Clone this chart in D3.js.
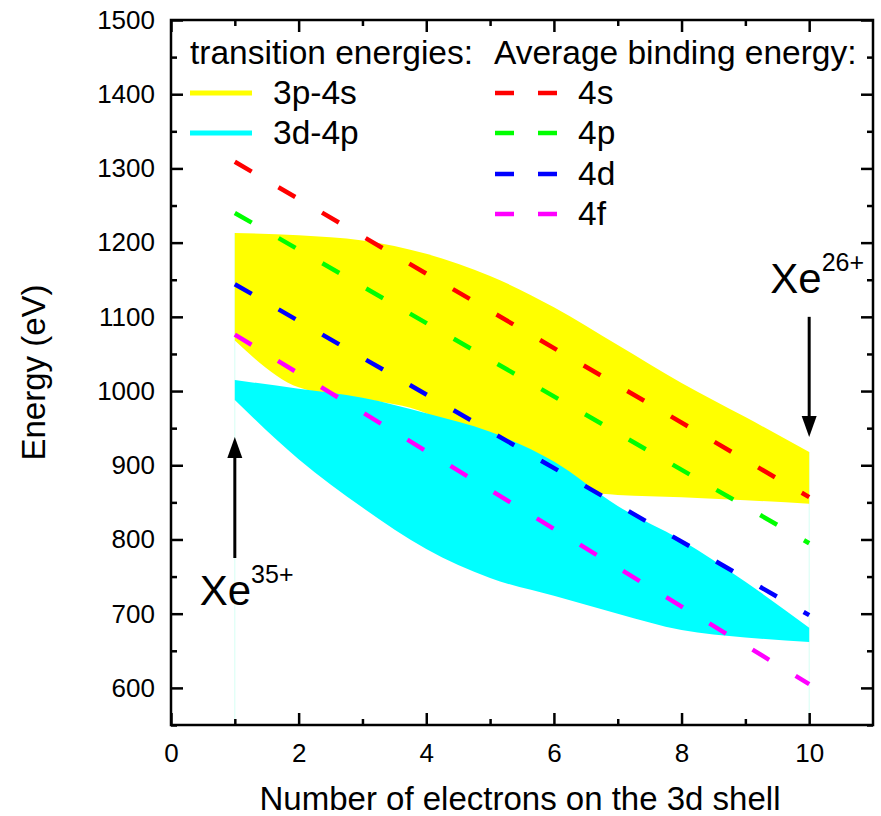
<!DOCTYPE html>
<html>
<head>
<meta charset="utf-8">
<script src="https://cdn.jsdelivr.net/npm/d3@7"></script>
<style>
  body { margin: 0; background: #fff; }
  text { font-family: "Liberation Sans", Arial, sans-serif; fill: #000; }
</style>
</head>
<body>
<div id="chart"></div>
<script>
// electrons on the 3d shell
const nElectrons = [1, 2, 3, 4, 5, 6, 7, 8, 9, 10];

// transition energy bands (eV)
const band3p4sTop = [1213, 1210, 1203, 1185, 1155, 1113, 1062, 1011, 965, 918];
const band3p4sBot = [1068, 1005, 990, 970, 918, 872, 860, 857, 853, 848];
const band3d4pTop = [1015, 1003, 991, 970, 945, 905, 845, 799, 743, 681];
const band3d4pBot = [988, 908, 843, 787, 748, 724, 700, 678, 668, 662];

// average binding energies, straight lines from n=1 to n=10
const bindX = [1, 10];
const bind4s = [1309, 857];
const bind4p = [1240, 795];
const bind4d = [1144, 698];
const bind4f = [1076, 605];

const xTicks = [0, 2, 4, 6, 8, 10];
const yTicks = [600, 700, 800, 900, 1000, 1100, 1200, 1300, 1400, 1500];

const W = 881, H = 816;
const plot = {left: 171, right: 873, top: 20, bottom: 725};

const svg = d3.select("#chart")
    .append("svg")
    .attr("width", W)
    .attr("height", H);

const x = d3.scaleLinear().domain([0, 11]).range([plot.left, plot.right]);
const y = d3.scaleLinear().domain([550, 1500]).range([plot.bottom, plot.top]);

// bands
const area = d3.area()
    .x(d => x(d.n))
    .y0(d => y(d.lo))
    .y1(d => y(d.hi))
    .curve(d3.curveMonotoneX);

const yellowData = nElectrons.map((n, i) => ({n, lo: band3p4sBot[i], hi: band3p4sTop[i]}));
const cyanData = nElectrons.map((n, i) => ({n, lo: band3d4pBot[i], hi: band3d4pTop[i]}));

// faint edges left by the fill down to the axis
svg.append("g")
    .selectAll("line")
    .data([0, 9])
    .join("line")
    .attr("x1", i => x(nElectrons[i])).attr("x2", i => x(nElectrons[i]))
    .attr("y1", y(550)).attr("y2", i => y(band3p4sTop[i]))
    .attr("stroke", "#d6fff4")
    .attr("stroke-width", 1);

svg.append("path")
    .datum(yellowData)
    .attr("d", area)
    .attr("fill", "#ffff00");

svg.append("path")
    .datum(cyanData)
    .attr("d", area)
    .attr("fill", "#00ffff");

// dashed binding energy lines
const lines = [
    {name: "4s", vals: bind4s, color: "#ff0000"},
    {name: "4p", vals: bind4p, color: "#00ff00"},
    {name: "4d", vals: bind4d, color: "#0000ff"},
    {name: "4f", vals: bind4f, color: "#ff00ff"}
];

const line = d3.line()
    .x(d => x(d[0]))
    .y(d => y(d[1]));

svg.append("g")
    .selectAll("path")
    .data(lines)
    .join("path")
    .attr("d", d => line(bindX.map((v, i) => [v, d.vals[i]])))
    .attr("fill", "none")
    .attr("stroke", d => d.color)
    .attr("stroke-width", 4.5)
    .attr("stroke-dasharray", "19.5,31");

// axes: major + minor ticks, all pointing inward
const xMinor = d3.range(1, 11, 2);
const yMinor = d3.range(550, 1500, 100);

function styleAxis(g) {
    g.select(".domain").remove();
    g.selectAll("line").attr("stroke", "#000").attr("stroke-width", 2.5);
    g.selectAll("text").style("font-size", "26px").style("font-family", "'Liberation Sans', Arial, sans-serif");
}

svg.append("g")
    .attr("transform", "translate(0," + plot.bottom + ")")
    .call(d3.axisBottom(x).tickValues(xTicks).tickSizeInner(-12).tickSizeOuter(0).tickPadding(19).tickFormat(d3.format("d")))
    .call(styleAxis);
svg.append("g")
    .attr("transform", "translate(0," + plot.bottom + ")")
    .call(d3.axisBottom(x).tickValues(xMinor).tickSizeInner(-6).tickSizeOuter(0).tickFormat(""))
    .call(styleAxis);
svg.append("g")
    .attr("transform", "translate(0," + plot.top + ")")
    .call(d3.axisTop(x).tickValues(xTicks).tickSizeInner(-12).tickSizeOuter(0).tickFormat(""))
    .call(styleAxis);
svg.append("g")
    .attr("transform", "translate(0," + plot.top + ")")
    .call(d3.axisTop(x).tickValues(xMinor).tickSizeInner(-6).tickSizeOuter(0).tickFormat(""))
    .call(styleAxis);

svg.append("g")
    .attr("transform", "translate(" + plot.left + ",0)")
    .call(d3.axisLeft(y).tickValues(yTicks).tickSizeInner(-12).tickSizeOuter(0).tickPadding(16).tickFormat(d3.format("d")))
    .call(styleAxis);
svg.append("g")
    .attr("transform", "translate(" + plot.left + ",0)")
    .call(d3.axisLeft(y).tickValues(yMinor).tickSizeInner(-6).tickSizeOuter(0).tickFormat(""))
    .call(styleAxis);
svg.append("g")
    .attr("transform", "translate(" + plot.right + ",0)")
    .call(d3.axisRight(y).tickValues(yTicks).tickSizeInner(-12).tickSizeOuter(0).tickFormat(""))
    .call(styleAxis);
svg.append("g")
    .attr("transform", "translate(" + plot.right + ",0)")
    .call(d3.axisRight(y).tickValues(yMinor).tickSizeInner(-6).tickSizeOuter(0).tickFormat(""))
    .call(styleAxis);

svg.append("rect")
    .attr("x", plot.left).attr("y", plot.top)
    .attr("width", plot.right - plot.left).attr("height", plot.bottom - plot.top)
    .attr("fill", "none")
    .attr("stroke", "#000")
    .attr("stroke-width", 2.5);

// axis titles
svg.append("text")
    .attr("x", (plot.left + plot.right) / 2 - 2)
    .attr("y", 810)
    .attr("text-anchor", "middle")
    .style("font-size", "33px")
    .text("Number of electrons on the 3d shell");

svg.append("text")
    .attr("transform", "translate(45," + ((plot.top + plot.bottom) / 2) + ") rotate(-90)")
    .attr("text-anchor", "middle")
    .style("font-size", "33px")
    .text("Energy (eV)");

// legend
const leg = svg.append("g");
leg.append("text").attr("x", 190).attr("y", 64).style("font-size", "33.5px").text("transition energies:");
leg.append("text").attr("x", 494).attr("y", 64).style("font-size", "33.5px").text("Average binding energy:");

const bandLegend = [
    {name: "3p-4s", color: "#ffff00"},
    {name: "3d-4p", color: "#00ffff"}
];
const rowY = [93, 133, 174, 214];

leg.selectAll(".bl")
    .data(bandLegend)
    .join("line")
    .attr("x1", 190).attr("x2", 252)
    .attr("y1", (d, i) => rowY[i]).attr("y2", (d, i) => rowY[i])
    .attr("stroke", d => d.color)
    .attr("stroke-width", 5);
leg.selectAll(".bt")
    .data(bandLegend)
    .join("text")
    .attr("x", 273)
    .attr("y", (d, i) => rowY[i] + 11)
    .style("font-size", "33.5px")
    .text(d => d.name);

leg.selectAll(".ll")
    .data(lines)
    .join("line")
    .attr("x1", 495).attr("x2", 557)
    .attr("y1", (d, i) => rowY[i]).attr("y2", (d, i) => rowY[i])
    .attr("stroke", d => d.color)
    .attr("stroke-width", 4.5)
    .attr("stroke-dasharray", "19,24");
leg.selectAll(".lt")
    .data(lines)
    .join("text")
    .attr("x", 578)
    .attr("y", (d, i) => rowY[i] + 11)
    .style("font-size", "33.5px")
    .text(d => d.name);

// ion annotations with arrows
function arrow(xv, fromV, toV) {
    const px = x(xv), y0 = y(fromV), y1 = y(toV);
    const dir = y1 < y0 ? 1 : -1;
    svg.append("line")
        .attr("x1", px).attr("x2", px)
        .attr("y1", y0).attr("y2", y1 + dir * 18)
        .attr("stroke", "#000").attr("stroke-width", 3);
    svg.append("path")
        .attr("d", "M" + (px - 7.5) + "," + (y1 + dir * 21) + "L" + px + "," + y1 + "L" + (px + 7.5) + "," + (y1 + dir * 21) + "Z")
        .attr("fill", "#000");
}
arrow(1, 775, 938);
arrow(10, 1100, 938);

function ionLabel(xv, v, charge) {
    const t = svg.append("text")
        .attr("x", x(xv)).attr("y", y(v))
        .style("font-size", "42px");
    t.append("tspan").text("Xe");
    t.append("tspan").attr("dy", -22).style("font-size", "25px").text(charge);
}
ionLabel(0.45, 712, "35+");
ionLabel(9.39, 1132, "26+");
</script>
</body>
</html>
